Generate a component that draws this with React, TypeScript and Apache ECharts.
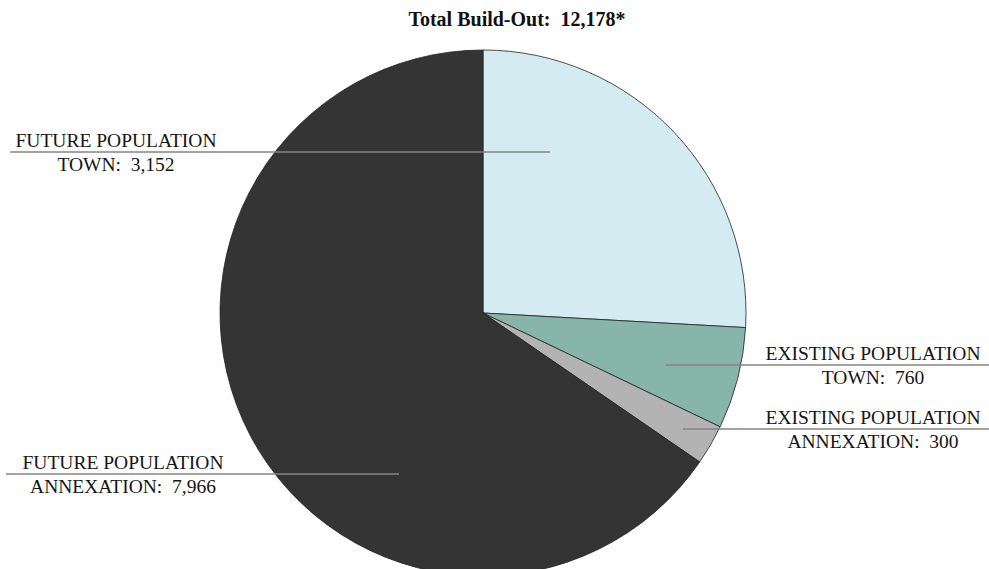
import React, { useEffect, useRef } from "react";
import * as echarts from "echarts";

const categories = [
  "FUTURE POPULATION\nTOWN",
  "EXISTING POPULATION\nTOWN",
  "EXISTING POPULATION\nANNEXATION",
  "FUTURE POPULATION\nANNEXATION",
];
const values = [3152, 760, 300, 7966];
const valueLabels = ["3,152", "760", "300", "7,966"];
const colors = ["#d4ebf2", "#87b5a9", "#b3b3b3", "#343434"];
const titleText = "Total Build-Out:  12,178*";

// label placement: [textCenterX, lineY, lineStartX (inside pie), lineEndX]
const labelPlaces: number[][] = [
  [116, 152, 550, 10],
  [873, 365, 666, 989],
  [873, 429, 683, 989],
  [123, 474, 399, 6],
];

export default function App() {
  const ref = useRef<HTMLDivElement>(null);
  useEffect(() => {
    if (!ref.current) return;
    const chart = echarts.init(ref.current, undefined, { renderer: "svg" });
    const font = "'Liberation Serif', 'DejaVu Serif', serif";
    const pieData = values.map((v, i) => ({
      value: v,
      name: categories[i],
      itemStyle: { color: colors[i] },
    }));
    chart.setOption({
      animation: false,
      backgroundColor: "#ffffff",
      title: {
        text: titleText,
        left: 512,
        top: 4,
        textAlign: "center",
        textStyle: { fontFamily: font, fontWeight: "bold", fontSize: 20, color: "#111" },
      },
      series: [
        {
          type: "pie",
          z: 2,
          silent: true,
          center: [483, 313],
          radius: [0, 263],
          startAngle: 90,
          clockwise: true,
          itemStyle: { borderColor: "#222", borderWidth: 0.8 },
          data: pieData,
          label: { show: false },
          labelLine: { show: false },
        },
        {
          type: "pie",
          z: 5,
          silent: true,
          center: [483, 313],
          radius: [0, 263],
          startAngle: 90,
          clockwise: true,
          avoidLabelOverlap: false,
          itemStyle: { color: "rgba(0,0,0,0)", borderWidth: 0 },
          data: values.map((v, i) => ({ value: v, name: categories[i] })),
          label: {
            show: true,
            position: "outside",
            fontFamily: font,
            fontSize: 19.5,
            color: "#141414",
            lineHeight: 24,
            align: "center",
            formatter: (p: any) => {
              const parts = categories[p.dataIndex].split("\n");
              return parts[0] + "\n" + parts[1] + ":  " + valueLabels[p.dataIndex];
            },
          },
          labelLine: {
            show: true,
            lineStyle: { color: "#858585", width: 1.3 },
          },
          labelLayout: (params: any) => {
            const pl = labelPlaces[params.dataIndex];
            return {
              x: pl[0],
              y: pl[1],
              align: "center",
              verticalAlign: "middle",
              labelLinePoints: [
                [pl[2], pl[1]],
                [pl[3], pl[1]],
                [pl[3], pl[1]],
              ],
            };
          },
        },
      ],
    });
    return () => chart.dispose();
  }, []);
  return (
    <div
      ref={ref}
      style={{ position: "fixed", left: 0, top: 0, width: 989, height: 569, background: "#fff" }}
    />
  );
}
